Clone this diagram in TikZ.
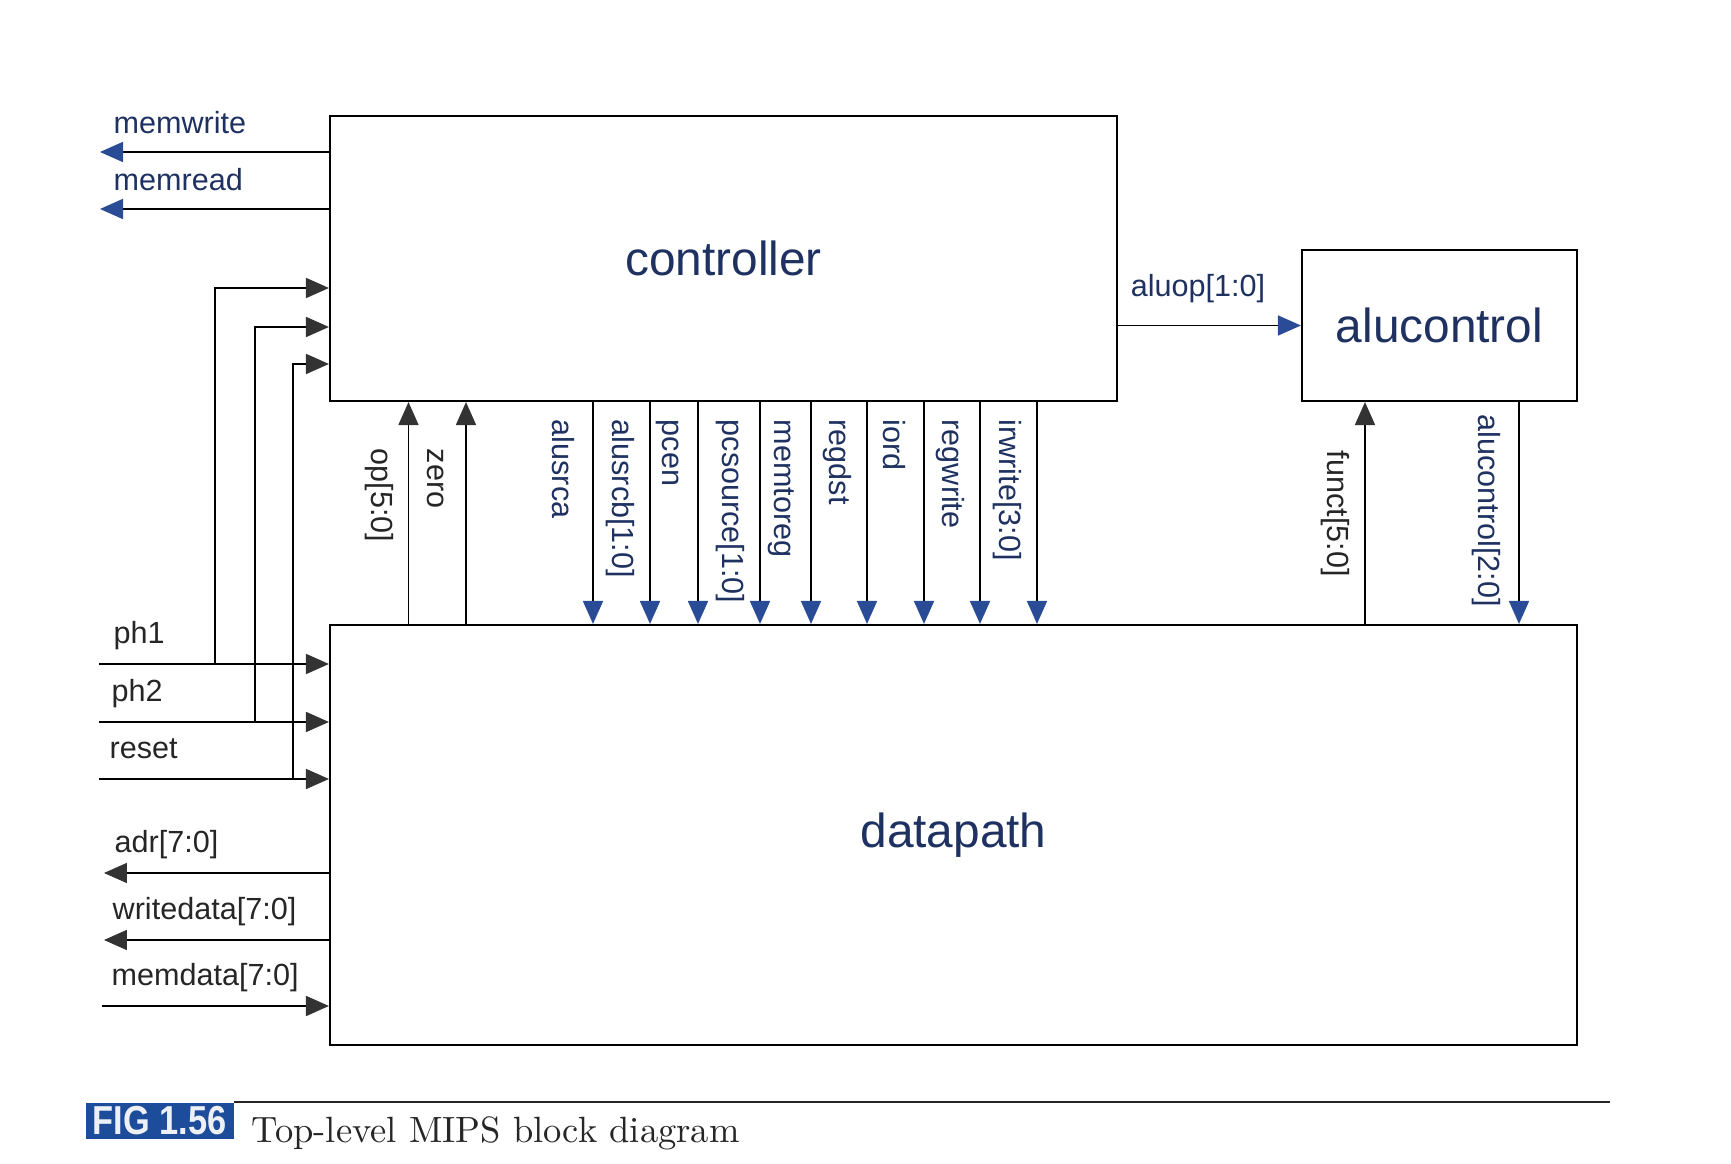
\documentclass[tikz,border=0pt]{standalone}
\usepackage{fontspec}
\usetikzlibrary{arrows.meta,calc}
\newfontfamily\arialfont{Liberation Sans}
\definecolor{sigblue}{HTML}{2A4C96}
\definecolor{txtnavy}{HTML}{1E3160}
\definecolor{txtdark}{HTML}{262626}
\definecolor{headgray}{HTML}{333333}
\definecolor{figblue}{HTML}{1D4C9A}
\newcommand{\sigfont}{\arialfont\fontsize{8.7}{10}\selectfont}
\newcommand{\bigfont}{\arialfont\fontsize{13.6}{16}\selectfont}
\newcommand{\figfont}{\arialfont\bfseries\fontsize{11.5}{14}\selectfont}
\begin{document}
\begin{tikzpicture}[
  block/.style={draw, line width=0.6pt, inner sep=0pt, font=\bigfont, text=txtnavy},
  insig/.style={line width=0.5pt, -{Triangle[length=0.23cm, width=0.2cm, color=headgray]}},
  outsig/.style={line width=0.5pt, -{Triangle[length=0.23cm, width=0.2cm, color=sigblue]}},
  lbl/.style={font=\sigfont, text=txtdark, inner sep=0pt, anchor=base west},
  vlbl/.style={font=\sigfont, text=txtdark, inner sep=0pt, rotate=-90, anchor=west}
]
\useasboundingbox (0,0) rectangle (17.31,-11.64);

% blocks
\node[block, minimum width=7.87cm, minimum height=2.85cm] (ctrl) at (7.235,-2.585) {controller};
\node[block, minimum width=2.75cm, minimum height=1.51cm] (alu) at (14.395,-3.255) {alucontrol};
\node[block, minimum width=12.47cm, minimum height=4.20cm] (dp) at (9.535,-8.35) {datapath};

% memory control
\coordinate (mw) at (1.0,-1.52);
\coordinate (mr) at (1.0,-2.09);
\draw[outsig] (ctrl.west |- mw) -- (mw);
\draw[outsig] (ctrl.west |- mr) -- (mr);
\node[lbl, text=txtnavy] at ($(mw)+(0.13,0.18)$) {memwrite};
\node[lbl, text=txtnavy] at ($(mr)+(0.13,0.18)$) {memread};

% clocks and reset
\coordinate (ph1) at (0.99,-6.64);
\coordinate (ph2) at (0.99,-7.22);
\coordinate (rst) at (0.99,-7.79);
\coordinate (ph1up) at (2.15,-2.88);
\coordinate (ph2up) at (2.55,-3.27);
\coordinate (rstup) at (2.93,-3.64);
\draw[insig] (ph1) -- (dp.west |- ph1);
\draw[insig] (ph2) -- (dp.west |- ph2);
\draw[insig] (rst) -- (dp.west |- rst);
\draw[insig] (ph1 -| ph1up) |- (ctrl.west |- ph1up);
\draw[insig] (ph2 -| ph2up) |- (ctrl.west |- ph2up);
\draw[insig] (rst -| rstup) |- (ctrl.west |- rstup);
\node[lbl] at ($(ph1)+(0.14,0.2)$) {ph1};
\node[lbl] at ($(ph2)+(0.12,0.2)$) {ph2};
\node[lbl] at ($(rst)+(0.10,0.2)$) {reset};

% memory bus
\coordinate (adr) at (1.04,-8.73);
\coordinate (wd) at (1.04,-9.40);
\coordinate (md) at (1.02,-10.06);
\draw[insig] (dp.west |- adr) -- (adr);
\draw[insig] (dp.west |- wd) -- (wd);
\draw[insig] (md) -- (dp.west |- md);
\node[lbl] at ($(adr)+(0.10,0.2)$) {adr[7:0]};
\node[lbl] at ($(wd)+(0.08,0.2)$) {writedata[7:0]};
\node[lbl] at ($(md)+(0.09,0.2)$) {memdata[7:0]};

% controller <-> datapath
\draw[insig] (4.085,0 |- dp.north) -- (4.085,0 |- ctrl.south);
\draw[insig] (4.66,0 |- dp.north) -- (4.66,0 |- ctrl.south);
\node[vlbl] at ($(4.085,0 |- ctrl.south)+(-0.29,-0.46)$) {op[5:0]};
\node[vlbl] at ($(4.66,0 |- ctrl.south)+(-0.30,-0.46)$) {zero};
\foreach \x/\sig in {5.93/alusrca, 6.50/alusrcb[1:0], 6.98/pcen, 7.60/pcsource[1:0],
    8.11/memtoreg, 8.67/regdst, 9.24/iord, 9.80/regwrite, 10.37/irwrite[3:0]} {
  \draw[outsig] (\x,0 |- ctrl.south) -- (\x,0 |- dp.north);
  \node[vlbl, text=txtnavy] at ($(\x,0 |- ctrl.south)+(-0.30,-0.17)$) {\sig};
}

% alu control
\draw[outsig] (ctrl.east |- alu.west) -- (alu.west);
\node[lbl, text=txtnavy] at ($(ctrl.east |- alu.west)+(0.12,0.29)$) {aluop[1:0]};
\draw[insig] (13.65,0 |- dp.north) -- (13.65,0 |- alu.south);
\node[vlbl] at ($(13.65,0 |- alu.south)+(-0.30,-0.48)$) {funct[5:0]};
\draw[outsig] (15.19,0 |- alu.south) -- (15.19,0 |- dp.north);
\node[vlbl, text=txtnavy] at ($(15.19,0 |- alu.south)+(-0.33,-0.12)$) {alucontrol[2:0]};

% caption
\node[fill=figblue, minimum width=1.48cm, minimum height=0.36cm, inner sep=0pt,
  anchor=north west, text=white!92!figblue, font=\figfont] (fig) at (0.85,-11.02)
  {\scalebox{0.85}[1]{FIG 1.56}};
\draw[line width=0.6pt, txtdark] (fig.north east) -- (16.10,-11.02);
\node[anchor=west, inner sep=0pt, text=txtdark, font=\fontsize{10.4}{12}\selectfont] (cap)
  at (2.51,-11.33) {Top-level MIPS block diagram};

\end{tikzpicture}
\end{document}
